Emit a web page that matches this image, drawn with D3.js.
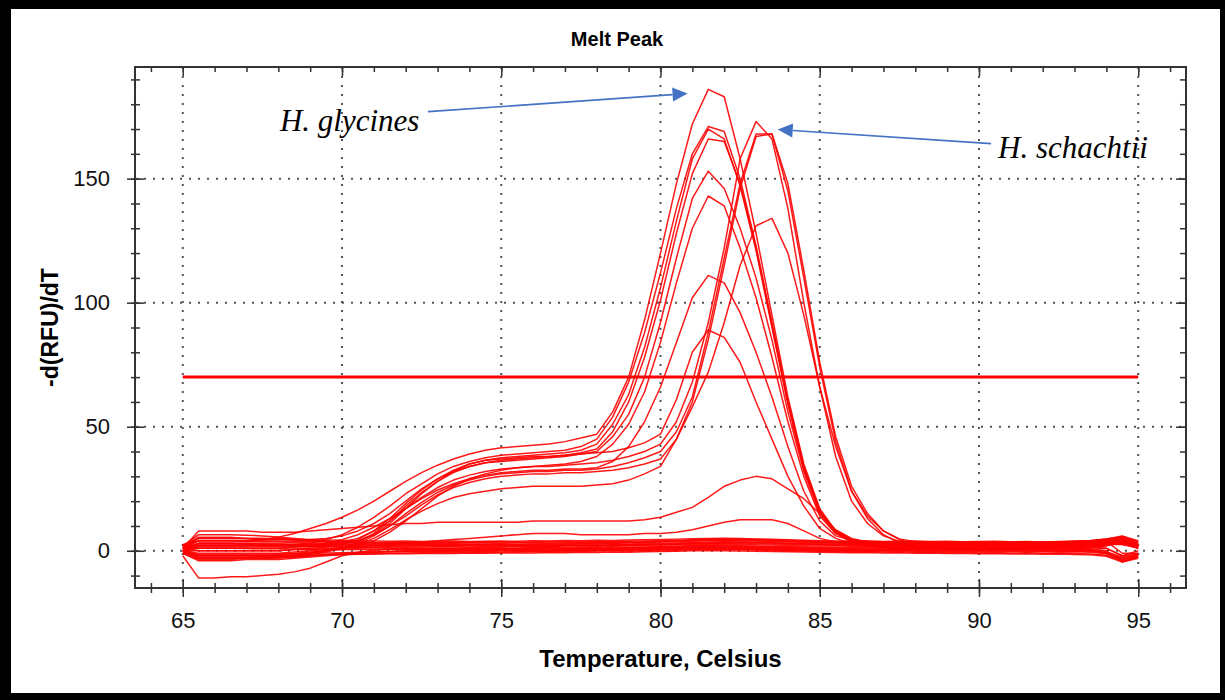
<!DOCTYPE html>
<html>
<head>
<meta charset="utf-8">
<script src="https://cdn.jsdelivr.net/npm/d3@7"></script>
<style>
  body { margin: 0; background: #000; }
  svg { display: block; }
  .axis line { stroke: #333; stroke-width: 1.5; }
  .axis text { font-family: "Liberation Sans", Arial, sans-serif; font-size: 22px; fill: #111; }
</style>
</head>
<body>
<svg id="chart" width="1225" height="700"></svg>
<script>
// temperature steps (Celsius)
const temps = [65,65.5,66,66.5,67,67.5,68,68.5,69,69.5,70,70.5,71,71.5,72,72.5,73,73.5,74,74.5,
  75,75.5,76,76.5,77,77.5,78,78.5,79,79.5,80,80.5,81,81.5,82,82.5,83,83.5,84,84.5,
  85,85.5,86,86.5,87,87.5,88,88.5,89,89.5,90,90.5,91,91.5,92,92.5,93,93.5,94,94.5,95];

const xTicks = [65, 70, 75, 80, 85, 90, 95];
const yTicks = [0, 50, 100, 150];
const threshold = 70;

// H. glycines wells (peak ~81.5)
const g1 = [1,4,4,4,4,4.5,5.5,7,9,11, 13.5,16.5,20,24,28,31.5,34.5,37,39,40.5, 41.5,42,42.5,43,44,45.5,47,56,70,93,
  120,148,172,186,183,158,128,95,62,35, 17,8,4.5,3.5,3.2,3.0,2.9,2.8,2.9,2.7, 2.8,2.9,2.7,2.8,2.6,2.7,2.9,3.1,3.6,4.5, 2.5];
const g2 = [0,2,2,2,2,2,2,2.5,3,4.5, 6.5,9.5,13.5,18,23,27,31,34,36,37.5, 38.5,39,39.5,40,40.5,42,45,54,68,88,
  112,138,160,171,169,150,123,92,60,34, 16,8,4,2.8,2.2,1.9,1.7,1.6,1.7,1.5, 1.6,1.7,1.5,1.6,1.4,1.5,1.7,1.9,2.4,5, 3];
const g3 = [1,3,3,3,3,2.5,2.5,2.5,2.5,2.5, 3,4,6.5,11,17,23,28,32,35,36.5, 37.5,38,38.5,39,39.5,40.5,43,51,63,82,
  106,133,158,170,166,147,121,90,59,33, 16,7.5,3.8,2.4,1.7,1.4,1.2,1.3,1.1,1.2, 1.3,1.1,1.2,1.3,1.1,1.2,1.3,1.5,2.2,3, 1.5];
const g4 = [-1,-3,-3,-3,-3,-2.5,-2.5,-2,-1,0, 1.5,3.5,7,12,18,23.5,28,31.5,34,35.5, 36.5,37,37.5,38,38.5,39.5,41,48,60,78,
  101,128,152,166,165,148,122,91,60,34, 16,8,4.5,3.6,3.3,3.2,3.1,3.0,3.2,3.1, 3.0,3.1,3.2,3.0,3.1,3.2,3.4,3.6,3.8,-1, -1];
const g5 = [2,5.5,5.5,5.5,5,5,5,4.5,4.5,5, 6,8,11,15,20,25,29,32,34,35.5, 36,36.5,37,37.5,38,39,40,46,55,70,
  92,118,142,153,146,130,110,85,56,32, 15,7,3.5,2.0,1.3,1.0,0.8,0.9,0.7,0.8, 0.9,0.7,0.8,0.9,0.7,0.8,0.9,1.1,2.0,4.5, 2.5];
const g6 = [0,-1,-1,-1,-1,-1,-1,-0.5,0,0.5, 1,2,4,7.5,12,17,22,26,29,31, 32.5,33.5,34,34.5,35,36,38,43,51,64,
  84,108,130,143,139,122,102,78,52,30, 14,7,4,3,2.6,2.4,2.3,2.2,2.4,2.3, 2.2,2.3,2.4,2.2,2.3,2.4,2.5,2.7,3.0,3.5, 1];
const g7 = [1,1,1,1,1,1,1,1.5,2,3, 4.5,6.5,9.5,13,17,21,24.5,27,29,30.5, 31.5,32,32.5,32.5,33,33,33.5,36,42,52,
  66,84,102,111,108,96,80,62,42,24, 12,6,4.2,3.8,3.6,3.5,3.6,3.4,3.5,3.6, 3.5,3.4,3.6,3.5,3.4,3.5,3.7,3.9,4.2,3, 2];
const g8 = [1,0,0,0,0,0,0,0.5,1,1.5, 2.5,4.5,8,13,19,24.5,29,32.5,35,36.5, 37,37.5,38,38,38.5,39,39.5,40,41.5,43.5,
  47,61,80,89,86,76,60,45,30,18, 9,5,3,2.3,2.0,1.9,1.8,1.9,2.0,1.9, 1.8,1.9,2.0,1.8,1.9,2.0,2.1,2.3,2.6,3, 2];

// H. schachtii wells (peak ~83)
const s1 = [0,2.5,2.5,2.5,2.5,2,2,2,2,2.5, 3.5,5,8,12,17,21.5,25.5,28.5,30.5,32, 33,33.5,34,34,34.5,35,35.5,36.5,38,40,
  43,52,68,92,122,158,173,166,138,100, 66,38,20,11,6,3.8,2.9,2.6,2.7,2.5, 2.6,2.7,2.5,2.6,2.4,2.5,2.7,2.9,3.2,4, 1.5];
const s2 = [-1,-3,-3,-3,-3,-3,-2.5,-2,-1.5,-0.5, 1,3,6,10,15,19.5,23.5,26.5,28.5,30, 31,31.5,32,32,32.5,32.5,33,34,35.5,37.5,
  40,48,62,88,118,148,168,168,145,110, 74,44,24,13,6.5,3.2,1.5,0.8,0.5,0.4, 0.5,0.3,0.4,0.5,0.3,0.4,0.5,0.6,1.0,-2, -1.5];
const s3 = [1,1.5,1.5,1.5,1.5,1.5,1.5,1.5,1.5,2, 2.5,4,6.5,10,14,18.5,22.5,25.5,27.5,29, 30,30.5,31,31,31.5,31.5,32,32.5,33.5,35,
  37,45,60,85,115,146,167,168,148,113, 76,46,26,15,8,4.8,3.6,3.4,3.3,3.4, 3.3,3.2,3.4,3.3,3.2,3.3,3.5,3.7,4.0,5, 2.5];
const s4 = [0,-2,-2,-2,-2,-2,-2,-1.5,-1,0, 1,2.5,5,8.5,12.5,16,19,21.5,23,24, 25,25.5,26,26,26,26,26.5,27,28.5,31,
  34,45,58,72,92,115,131,134,120,95, 66,42,24,14,8,4.5,2.5,1.7,1.5,1.4, 1.3,1.4,1.5,1.3,1.4,1.5,1.6,1.8,2.5,3.5, 1];
const s5 = [1,8,8,8,8,7.5,7.5,7.5,8,8.5, 9,9.5,10,10.5,11,11,11.5,11.5,11.5,11.5, 11.5,11.5,12,12,12,12,12,12,12,12.5,
  13.5,15.5,17.5,21.5,26,28.5,30,29,25,21, 15,8.5,5,3.5,2.8,2.4,2.2,2.1,2.0,2.1, 2.2,2.0,2.1,2.2,2.0,2.1,2.2,2.4,2.8,3, 2];
const s6 = [0,0,0,0,0,0,0,0.5,0.5,1, 1,1.5,2,2.5,3,3.5,4,4.5,5,5.5, 6,6.5,7,7,7,6.5,6.5,6.5,6.5,7,
  7,7.5,8.5,10,11.5,12.5,12.5,12.5,11,8, 5,3.5,3.2,3.0,2.9,2.8,2.9,2.8,2.7,2.8, 2.9,2.8,2.7,2.8,2.9,2.8,3.0,3.2,3.4,2.5, 2];

// negative / no template wells
const b1 = [-2,-11,-11,-10.5,-10.5,-10,-9.5,-8.5,-7,-4.5, -2,-0.6,0.2,0.6,0.8,0.9,1.1,1.0,1.2,1.3,
  1.2,1.1,1.3,1.4,1.2,1.3,1.5,1.6,1.4,1.5, 1.7,1.8,2.0,2.2,2.1,2.0,1.8,1.7,1.6,1.5,
  1.4,1.3,1.4,1.5,1.3,1.2,1.4,1.3,1.2,1.3, 1.4,1.2,1.1,1.3,1.2,1.0,0.9,0.6,0,-4.5, -2.5];
const b2 = [-1,-4,-4,-4,-3.5,-3.5,-3.5,-3,-2.5,-2, -1.5,-1,-0.5,-0.2,0,0.2,0.3,0.4,0.3,0.5,
  0.6,0.4,0.5,0.3,0.5,0.6,0.7,0.6,0.8,0.9, 1.0,1.2,1.4,1.5,1.3,1.2,1.0,0.9,0.8,0.7,
  0.6,0.5,0.4,0.5,0.3,0.4,0.5,0.6,0.4,0.5, 0.6,0.5,0.4,0.3,0.4,0.2,0.3,0.1,-1,-3.5, -2];
const b3 = [0,-3.5,-3.5,-3.5,-3,-3,-3,-2.5,-2,-1.7, -1.5,-1.4,-1.2,-1.0,-0.9,-0.8,-0.7,-0.6,-0.7,-0.5,
  -0.6,-0.4,-0.3,-0.4,-0.2,-0.3,-0.1,0,-0.2,0, 0.1,0.2,0.4,0.6,0.5,0.4,0.3,0.2,0,-0.1,
  -0.2,-0.3,-0.4,-0.3,-0.5,-0.4,-0.6,-0.5,-0.7,-0.6, -0.8,-0.7,-0.9,-0.8,-1.0,-0.9,-1.1,-1.3,-1.8,-4, -2.5];
const b4 = [2,5,5,5,5,4.5,4.5,4.3,4,3.7, 3.5,3.3,3.1,2.9,2.8,2.9,2.7,2.8,2.6,2.7,
  2.8,2.6,2.7,2.9,2.8,3.0,3.1,3.0,3.2,3.3, 3.5,3.6,3.8,4.0,4.1,4.0,3.9,3.7,3.5,3.4,
  3.2,3.1,3.0,3.1,2.9,3.0,3.2,3.1,3.0,3.1, 3.2,3.0,3.1,3.2,3.0,3.1,3.3,3.6,4.2,5.5, 3.5];
const b5 = [1,3,3,3,3,3,2.8,2.6,2.5,2.4, 2.3,2.2,2.2,2.1,2.2,2.3,2.1,2.2,2.4,2.3,
  2.2,2.1,2.0,2.1,2.2,2.0,2.1,2.3,2.4,2.5, 2.6,2.8,3.0,3.1,3.3,3.4,3.3,3.1,2.9,2.8,
  2.6,2.5,2.4,2.5,2.3,2.4,2.6,2.5,2.4,2.5, 2.6,2.4,2.5,2.3,2.4,2.5,2.7,2.9,3.3,4, 2];
const b6 = [-1,-3,-3,-3,-3,-3,-2.5,-2.5,-2,-1.5, -1.1,-0.9,-0.6,-0.4,-0.2,-0.1,0,-0.1,0.1,0,
  0.1,0.2,0,0.1,0.3,0.4,0.3,0.5,0.4,0.6, 0.7,0.8,0.9,1.0,1.1,1.0,0.8,0.7,0.5,0.4,
  0.3,0.2,0.3,0.1,0.2,0.3,0.1,0.2,0,0.1, 0.2,0,0.1,-0.1,0,-0.2,-0.1,-0.3,-0.8,-3, -1.5];
const b7 = [1.5,2,2,2,2,2,2,2,1.9,1.8, 1.7,1.6,1.5,1.6,1.4,1.5,1.6,1.7,1.5,1.6,
  1.7,1.8,1.6,1.7,1.9,2.0,1.9,2.1,2.0,2.2, 2.3,2.4,2.6,2.7,2.6,2.5,2.4,2.3,2.1,2.0,
  1.9,2.0,1.8,1.9,1.7,1.8,2.0,1.9,1.8,1.9, 2.0,1.8,1.9,2.0,1.8,1.9,2.1,2.3,2.6,2.5, 1];
const b8 = [2.5,4,4,4,4,4,3.9,3.8,3.6,3.5, 3.4,3.2,3.1,3.2,3.3,3.1,3.2,3.4,3.3,3.5,
  3.6,3.4,3.5,3.7,3.6,3.5,3.7,3.6,3.8,3.9, 4.0,4.2,4.4,4.6,4.7,4.6,4.5,4.3,4.1,3.9,
  3.8,3.6,3.7,3.5,3.6,3.7,3.5,3.6,3.4,3.5, 3.6,3.4,3.5,3.6,3.5,3.7,3.8,4.0,4.8,5.6, 4];
const b9 = [0,-2,-2,-2,-2,-2,-1.5,-1,-0.5,0, 0.5,1.0,1.4,1.6,1.8,1.9,2.0,1.9,2.1,2.0,
  1.9,2.0,2.1,1.9,2.0,2.2,2.1,2.3,2.2,2.4, 2.5,2.6,2.8,3.0,3.1,3.0,2.9,2.7,2.6,2.5,
  2.4,2.3,2.2,2.1,2.2,2.0,2.1,2.2,2.0,2.1, 2.2,2.0,1.9,2.0,2.1,1.9,1.8,1.6,1,-2, 0];
const b10 = [0,-2.5,-2.5,-2.5,-2.5,-2.2,-2,-2,-1.8,-1.6, -1.5,-1.4,-1.3,-1.2,-1.2,-1.1,-1.0,-1.1,-0.9,-1.0,
  -0.9,-0.8,-0.9,-0.7,-0.8,-0.6,-0.7,-0.5,-0.6,-0.4, -0.3,-0.2,0,0.1,0,-0.1,-0.2,-0.3,-0.4,-0.5,
  -0.6,-0.7,-0.8,-0.7,-0.9,-0.8,-1.0,-0.9,-1.1,-1.0, -1.2,-1.1,-1.3,-1.2,-1.4,-1.3,-1.5,-1.6,-2.2,-4.5, -3];
const b11 = [0.5,3,3,3,2.5,2.5,2.3,2.1,1.9,1.6, 1.4,1.2,1.1,1.0,0.9,1.0,0.8,0.9,1.0,0.9,
  0.8,0.9,1.0,1.1,0.9,1.0,1.2,1.1,1.3,1.4, 1.6,1.7,1.9,2.0,1.9,1.8,1.7,1.5,1.4,1.3,
  1.1,1.0,0.9,1.0,0.8,0.9,1.0,0.9,0.8,0.9, 1.0,0.9,0.8,1.0,0.9,0.8,1.0,1.2,2.0,4, 2];
const b12 = [1,5,5,5,5,5,4.7,4.5,4.4,4.3, 4.2,4.0,3.9,3.8,3.9,3.7,3.8,3.9,3.7,3.8,
  3.9,3.8,4.0,3.9,4.1,4.0,4.2,4.1,4.3,4.4, 4.5,4.7,4.9,5.0,5.1,5.0,4.8,4.6,4.4,4.2,
  4.0,3.9,3.8,3.9,3.7,3.8,3.9,3.7,3.8,3.6, 3.7,3.8,3.6,3.7,3.5,3.6,3.8,4.1,4.8,6, 4];
const b13 = [1.5,4,4,4,3.8,3.6,3.5,3.3,3.1,2.9, 2.7,2.6,2.5,2.4,2.5,2.6,2.5,2.4,2.6,2.5,
  2.4,2.5,2.6,2.4,2.5,2.7,2.6,2.8,2.7,2.9, 3.0,3.1,3.3,3.5,3.6,3.5,3.4,3.2,3.0,2.9,
  2.8,2.7,2.8,2.6,2.7,2.8,2.6,2.7,2.8,2.6, 2.7,2.8,2.6,2.7,2.8,2.7,2.9,3.2,3.9,5, 3];
const b14 = [0,1,1,1,0.9,0.8,0.8,0.7,0.7,0.6, 0.5,0.6,0.5,0.6,0.7,0.6,0.5,0.7,0.6,0.7,
  0.8,0.6,0.7,0.8,0.7,0.9,0.8,1.0,0.9,1.1, 1.2,1.3,1.5,1.6,1.5,1.4,1.3,1.2,1.0,0.9,
  0.8,0.7,0.8,0.6,0.7,0.8,0.6,0.7,0.6,0.7, 0.8,0.6,0.7,0.6,0.5,0.6,0.4,0.3,-0.5,-2.5, -1];
const b15 = [-0.5,-1.5,-1.5,-1.5,-1.5,-1.4,-1.3,-1.2,-1.0,-0.9, -0.8,-0.6,-0.5,-0.4,-0.3,-0.2,-0.3,-0.2,-0.1,-0.2,
  -0.1,0,-0.1,0.1,0,0.2,0.1,0.3,0.2,0.4, 0.5,0.6,0.7,0.8,0.7,0.6,0.5,0.3,0.2,0.1,
  0,-0.1,0,-0.2,-0.1,0,-0.2,-0.1,-0.3,-0.2, -0.1,-0.3,-0.2,-0.4,-0.3,-0.5,-0.4,-0.6,-1.2,-3.5, -2];
const b16 = [2,6.5,6.5,6.5,6.3,6,5.6,5,4.3,3.8, 3.5,3.3,3.2,3.1,3.2,3.3,3.1,3.2,3.3,3.2,
  3.1,3.2,3.3,3.1,3.2,3.4,3.3,3.5,3.4,3.6, 3.7,3.9,4.1,4.3,4.4,4.3,4.2,4.0,3.8,3.6,
  3.4,3.3,3.4,3.2,3.3,3.4,3.2,3.3,3.1,3.2, 3.3,3.1,3.2,3.3,3.1,3.2,3.4,3.7,4.4,5.8, 3.5];

const curves = [b1, b2, b3, b4, b5, b6, b7, b8, b9, b10, b11, b12, b13, b14, b15, b16,
  s6, s5, s4, s3, s2, s1, g8, g7, g6, g5, g4, g3, g2, g1];

const svg = d3.select("#chart");

// white page inside the black frame
svg.append("rect")
  .attr("x", 11).attr("y", 9)
  .attr("width", 1209).attr("height", 684)
  .attr("fill", "#fff");

const margin = { top: 67, left: 135 };
const width = 1186 - 135;
const height = 588 - 67;

const chart = svg.append("g")
  .attr("transform", `translate(${margin.left},${margin.top})`);

const x = d3.scaleLinear().domain([63.5, 96.5]).range([0, width]);
const y = d3.scaleLinear().domain([-15, 195]).range([height, 0]);

// dotted grid
chart.append("g")
  .selectAll("line")
  .data(xTicks)
  .join("line")
    .attr("x1", d => x(d)).attr("x2", d => x(d))
    .attr("y1", 0).attr("y2", height)
    .attr("stroke", "#555").attr("stroke-width", 2)
    .attr("stroke-dasharray", "2,7");

chart.append("g")
  .selectAll("line")
  .data(yTicks)
  .join("line")
    .attr("x1", 0).attr("x2", width)
    .attr("y1", d => y(d)).attr("y2", d => y(d))
    .attr("stroke", "#555").attr("stroke-width", 2)
    .attr("stroke-dasharray", "2,7");

// melt curves
const line = d3.line()
  .x((d, i) => x(temps[i]))
  .y(d => y(d));

chart.append("g")
  .selectAll("path")
  .data(curves)
  .join("path")
    .attr("d", line)
    .attr("fill", "none")
    .attr("stroke", "#ff0000")
    .attr("stroke-width", 1.5)
    .attr("stroke-opacity", 0.9)
    .attr("stroke-linejoin", "round");

// threshold line
chart.append("line")
  .attr("x1", x(temps[0])).attr("x2", x(temps[temps.length - 1]))
  .attr("y1", y(threshold)).attr("y2", y(threshold))
  .attr("stroke", "#ff0000")
  .attr("stroke-width", 3);

// frame
chart.append("rect")
  .attr("width", width).attr("height", height)
  .attr("fill", "none")
  .attr("stroke", "#333")
  .attr("stroke-width", 2);

const xMinor = d3.range(64, 97);
const yMinor = d3.range(-10, 191, 10);

function noDomain(g) { g.select(".domain").remove(); }

// bottom axis
chart.append("g")
  .attr("class", "axis")
  .attr("transform", `translate(0,${height})`)
  .call(d3.axisBottom(x).tickValues(xMinor).tickSize(5).tickFormat(""))
  .call(noDomain)
  .call(g => g.selectAll(".tick line").attr("y1", -5));

chart.append("g")
  .attr("class", "axis")
  .attr("transform", `translate(0,${height})`)
  .call(d3.axisBottom(x).tickValues(xTicks).tickSize(9).tickPadding(15))
  .call(noDomain)
  .call(g => g.selectAll(".tick line").attr("y1", -9));

// left axis
chart.append("g")
  .attr("class", "axis")
  .call(d3.axisLeft(y).tickValues(yMinor).tickSize(4).tickFormat(""))
  .call(noDomain)
  .call(g => g.selectAll(".tick line").attr("x1", 5));

chart.append("g")
  .attr("class", "axis")
  .call(d3.axisLeft(y).tickValues(yTicks).tickSize(8).tickPadding(17))
  .call(noDomain)
  .call(g => g.selectAll(".tick line").attr("x1", 9));

// top and right axes, ticks inside
chart.append("g")
  .attr("class", "axis")
  .call(d3.axisTop(x).tickValues(xMinor).tickSize(-5).tickFormat(""))
  .call(noDomain);
chart.append("g")
  .attr("class", "axis")
  .call(d3.axisTop(x).tickValues(xTicks).tickSize(-9).tickFormat(""))
  .call(noDomain);

chart.append("g")
  .attr("class", "axis")
  .attr("transform", `translate(${width},0)`)
  .call(d3.axisRight(y).tickValues(yMinor).tickSize(-6).tickFormat(""))
  .call(noDomain);
chart.append("g")
  .attr("class", "axis")
  .attr("transform", `translate(${width},0)`)
  .call(d3.axisRight(y).tickValues(yTicks).tickSize(-10).tickFormat(""))
  .call(noDomain);

// titles
svg.append("text")
  .attr("x", 617).attr("y", 46)
  .attr("text-anchor", "middle")
  .style("font-family", '"Liberation Sans", Arial, sans-serif')
  .style("font-weight", "bold")
  .style("font-size", "20px")
  .text("Melt Peak");

svg.append("text")
  .attr("x", margin.left + width / 2).attr("y", 667)
  .attr("text-anchor", "middle")
  .style("font-family", '"Liberation Sans", Arial, sans-serif')
  .style("font-weight", "bold")
  .style("font-size", "24px")
  .text("Temperature, Celsius");

svg.append("text")
  .attr("transform", `translate(58,${margin.top + height / 2}) rotate(-90)`)
  .attr("text-anchor", "middle")
  .style("font-family", '"Liberation Sans", Arial, sans-serif')
  .style("font-weight", "bold")
  .style("font-size", "23px")
  .text("-d(RFU)/dT");

// annotations with arrows
const blue = "#4472c4";

function arrow(t0, v0, t1, v1) {
  const x0 = x(t0), y0 = y(v0), x1 = x(t1), y1 = y(v1);
  const ang = Math.atan2(y1 - y0, x1 - x0);
  const len = 15, half = 7;
  const bx = x1 - len * Math.cos(ang), by = y1 - len * Math.sin(ang);
  chart.append("line")
    .attr("x1", x0).attr("y1", y0).attr("x2", bx).attr("y2", by)
    .attr("stroke", blue).attr("stroke-width", 1.6);
  const pts = [
    [x1, y1],
    [bx + half * Math.sin(ang), by - half * Math.cos(ang)],
    [bx - half * Math.sin(ang), by + half * Math.cos(ang)]
  ];
  chart.append("polygon")
    .attr("points", pts.map(p => p.join(",")).join(" "))
    .attr("fill", blue);
}

function label(text, t, v) {
  chart.append("text")
    .attr("x", x(t)).attr("y", y(v))
    .style("font-family", '"Liberation Serif", "Times New Roman", serif')
    .style("font-style", "italic")
    .style("font-size", "31px")
    .attr("fill", "#000")
    .text(text);
}

label("H. glycines", 68.05, 169.4);
arrow(72.7, 177, 80.85, 184.3);

label("H. schachtii", 90.6, 158.5);
arrow(90.38, 164.1, 83.68, 169.8);
</script>
</body>
</html>
